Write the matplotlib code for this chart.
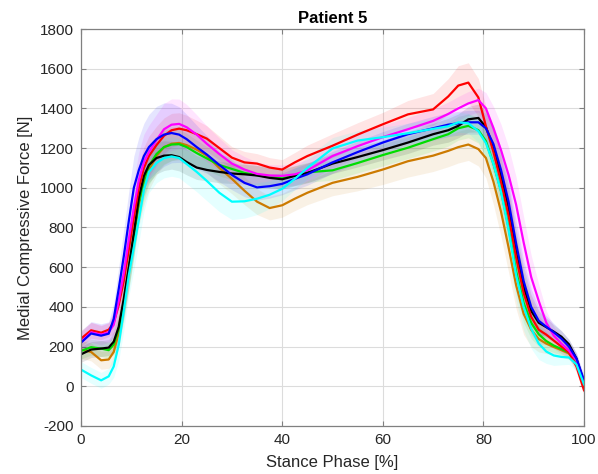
import matplotlib
matplotlib.use('Agg')
import numpy as np
import matplotlib.pyplot as plt

plt.rcParams['font.family'] = ['Liberation Sans', 'DejaVu Sans']
plt.rcParams['axes.unicode_minus'] = False

# stance phase grid [%]
x = [0, 2, 4, 5.5, 6.5, 7.5, 8.5, 9.5, 10.5, 11.5, 12.5, 13.5, 15, 16.5, 18, 19.5, 21, 23, 25,
     27.5, 30, 32.5, 35, 37.5, 40, 42.5, 45, 50, 55, 60, 65, 70, 73, 75, 77, 79,
     80.5, 82, 83.5, 85, 86.5, 88, 89.5, 91, 92.5, 94, 95.5, 97, 98.5, 100]

# mean medial compressive force [N]
red = [240, 282, 270, 285, 320, 410, 530, 690, 850, 1000, 1100, 1160, 1215, 1262, 1290, 1298, 1290, 1270, 1248,
       1200, 1152, 1128, 1122, 1102, 1092, 1128, 1160, 1212, 1268, 1320, 1370, 1395, 1460, 1515, 1530, 1455,
       1310, 1180, 1030, 860, 650, 470, 350, 285, 260, 230, 200, 170, 100, -20]
magenta = [223, 272, 260, 272, 310, 430, 570, 740, 900, 1040, 1130, 1180, 1240, 1295, 1318, 1322, 1305, 1268, 1222,
           1170, 1122, 1092, 1070, 1062, 1060, 1068, 1088, 1160, 1210, 1255, 1295, 1337, 1372, 1400, 1425, 1442,
           1400, 1300, 1190, 1065, 915, 725, 550, 430, 320, 255, 215, 180, 130, 20]
blue = [220, 266, 255, 265, 340, 492, 655, 833, 1000, 1090, 1160, 1205, 1245, 1268, 1276, 1268, 1245, 1205, 1168,
        1115, 1065, 1025, 1002, 1008, 1020, 1045, 1068, 1128, 1180, 1228, 1270, 1300, 1318, 1325, 1330, 1330,
        1300, 1220, 1090, 930, 720, 530, 400, 330, 300, 272, 240, 200, 140, 30]
black = [161, 185, 190, 195, 225, 300, 440, 600, 770, 950, 1060, 1115, 1150, 1162, 1164, 1155, 1130, 1102, 1090,
         1080, 1072, 1068, 1062, 1050, 1043, 1060, 1075, 1122, 1155, 1190, 1228, 1270, 1290, 1312, 1345, 1352,
         1305, 1205, 1060, 900, 675, 500, 380, 320, 298, 275, 250, 212, 140, 20]
green = [178, 197, 190, 182, 210, 290, 430, 590, 760, 930, 1040, 1110, 1170, 1205, 1218, 1220, 1205, 1175, 1148,
         1115, 1095, 1075, 1063, 1055, 1048, 1062, 1078, 1088, 1125, 1165, 1202, 1245, 1270, 1300, 1312, 1290,
         1235, 1120, 985, 800, 580, 420, 320, 262, 228, 205, 188, 170, 120, 10]
orange = [185, 173, 131, 135, 173, 270, 420, 590, 760, 920, 1020, 1090, 1160, 1205, 1222, 1226, 1215, 1192, 1162,
          1100, 1045, 985, 930, 898, 912, 945, 975, 1025, 1055, 1092, 1134, 1162, 1186, 1205, 1218, 1195,
          1150, 1030, 880, 700, 510, 365, 285, 238, 215, 198, 182, 165, 118, 10]
cyan = [84, 55, 30, 50, 100, 210, 380, 560, 700, 840, 990, 1080, 1125, 1150, 1158, 1150, 1120, 1080, 1035,
        975, 930, 932, 945, 965, 995, 1045, 1100, 1198, 1238, 1255, 1275, 1297, 1310, 1330, 1325, 1285,
        1225, 1120, 980, 790, 560, 400, 290, 215, 175, 155, 148, 145, 110, 10]

# standard deviations [N]
red_sd = [40, 40, 35, 35, 55, 85, 105, 115, 115, 110, 105, 100, 95, 90, 85, 80, 75, 70, 65,
          60, 55, 55, 50, 50, 50, 50, 55, 60, 60, 60, 70, 80, 90, 100, 100, 95,
          100, 110, 120, 120, 115, 105, 90, 70, 50, 40, 35, 30, 30, 25]
magenta_sd = [50, 50, 50, 50, 70, 100, 125, 135, 140, 140, 140, 135, 130, 130, 130, 125, 115, 100, 90,
              80, 70, 65, 60, 55, 55, 55, 55, 60, 60, 60, 60, 60, 60, 60, 60, 60,
              80, 110, 130, 140, 140, 130, 110, 85, 60, 45, 40, 35, 30, 25]
blue_sd = [60, 60, 60, 60, 80, 110, 135, 150, 160, 165, 165, 165, 165, 160, 150, 140, 125, 110, 95,
           85, 75, 70, 65, 60, 55, 55, 55, 55, 55, 55, 55, 60, 60, 60, 60, 60,
           75, 95, 110, 115, 115, 105, 90, 70, 55, 45, 40, 35, 30, 25]
black_sd = [40, 40, 40, 40, 50, 70, 90, 100, 105, 105, 100, 90, 80, 75, 70, 70, 65, 60, 55,
            55, 50, 50, 50, 50, 50, 50, 50, 50, 50, 50, 55, 55, 60, 60, 65, 70,
            85, 100, 110, 115, 110, 100, 80, 60, 45, 35, 30, 25, 25, 20]
green_sd = [40, 40, 40, 40, 50, 70, 90, 100, 105, 105, 100, 95, 90, 85, 80, 75, 70, 65, 60,
            55, 55, 50, 50, 50, 50, 50, 50, 50, 50, 55, 55, 60, 60, 60, 60, 65,
            80, 100, 110, 115, 110, 100, 80, 60, 45, 35, 30, 25, 25, 20]
orange_sd = [45, 45, 45, 45, 55, 75, 95, 105, 110, 110, 105, 100, 95, 90, 85, 85, 85, 85, 85,
             80, 75, 70, 65, 60, 60, 60, 60, 65, 70, 75, 80, 80, 80, 80, 80, 85,
             100, 115, 125, 125, 120, 105, 85, 65, 50, 40, 35, 30, 25, 20]
cyan_sd = [40, 40, 40, 40, 55, 80, 100, 110, 115, 115, 110, 105, 100, 100, 100, 100, 100, 100, 100,
           95, 90, 85, 80, 70, 60, 55, 55, 55, 50, 50, 50, 50, 50, 50, 50, 55,
           75, 100, 120, 130, 130, 120, 100, 80, 60, 50, 40, 35, 30, 25]

series = [
    (orange, orange_sd, '#CC7A00'),
    (green, green_sd, '#00DD00'),
    (black, black_sd, '#000000'),
    (red, red_sd, '#FF0000'),
    (magenta, magenta_sd, '#FF00FF'),
    (blue, blue_sd, '#0000FF'),
    (cyan, cyan_sd, '#00FFFF'),
]

fig = plt.figure(figsize=(5.98, 4.74), dpi=100)
ax = fig.add_axes([0.1355, 0.1013, 0.8411, 0.8375])

xs = np.array(x)
for m, sd, c in series:
    m = np.array(m)
    sd = np.array(sd)
    ax.fill_between(xs, m - sd, m + sd, color=c, alpha=0.1, linewidth=0)
for m, sd, c in series:
    ax.plot(xs, m, color=c, linewidth=1.6)

ax.set_xlim(0, 100)
ax.set_ylim(-200, 1800)
ax.set_xticks(np.arange(0, 101, 20))
ax.set_yticks(np.arange(-200, 1801, 200))
ax.grid(True, color='#DCDCDC', linewidth=0.8)
ax.set_axisbelow(True)
ax.tick_params(direction='in', top=True, right=True, length=3.5, width=0.8,
               colors='#808080', labelcolor='#262626', labelsize=11, pad=5)
for s in ax.spines.values():
    s.set_color('#808080')
    s.set_linewidth(0.9)

ax.set_title('Patient 5', fontsize=12, fontweight='bold', pad=4)
ax.set_xlabel('Stance Phase [%]', fontsize=12, color='#262626')
ax.set_ylabel('Medial Compressive Force [N]', fontsize=12, color='#262626')
ax.xaxis.set_label_coords(0.5, -0.072)
ax.yaxis.set_label_coords(-0.095, 0.5)

fig.savefig('out.png', dpi=100)
